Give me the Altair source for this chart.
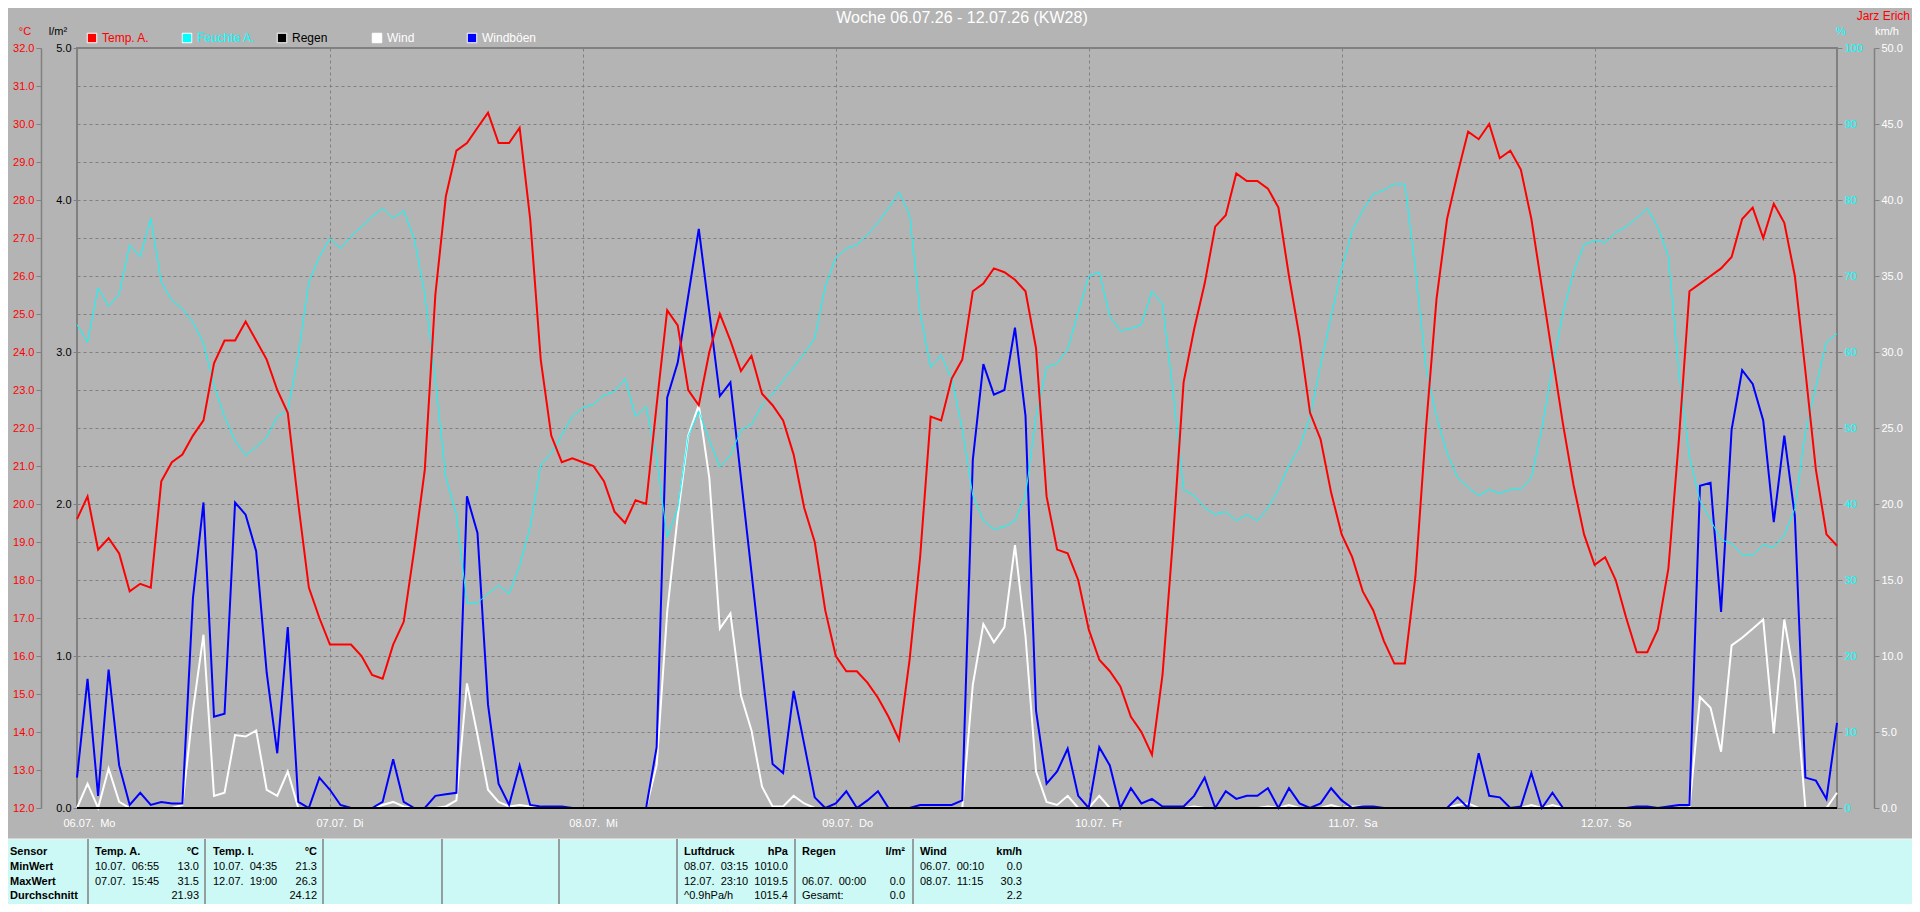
import altair as alt
import pandas as pd

FONT = "Liberation Sans"
GRID = "#808080"
BG = "#b4b4b4"
TABLE_BG = "#ccf9f5"

# ---------------- hourly series, 06.07. 00:00 ... 12.07. 23:00 ----------------
T_MO = [19.6, 20.2, 18.8, 19.1, 18.7, 17.7, 17.9, 17.8, 20.6, 21.1, 21.3, 21.8,
        22.2, 23.7, 24.3, 24.3, 24.8, 24.3, 23.8, 23.0, 22.4, 20.0, 17.8, 17.0]
T_DI = [16.3, 16.3, 16.3, 16.0, 15.5, 15.4, 16.3, 16.9, 18.8, 20.9, 25.5, 28.1,
        29.3, 29.5, 29.9, 30.3, 29.5, 29.5, 29.9, 27.5, 23.8, 21.8, 21.1, 21.2]
T_MI = [21.1, 21.0, 20.6, 19.8, 19.5, 20.1, 20.0, 22.6, 25.1, 24.7, 23.0, 22.6,
        24.0, 25.0, 24.3, 23.5, 23.9, 22.9, 22.6, 22.2, 21.3, 19.9, 19.0, 17.2]
T_DO = [16.0, 15.6, 15.6, 15.3, 14.9, 14.4, 13.8, 15.9, 18.6, 22.3, 22.2, 23.3,
        23.8, 25.6, 25.8, 26.2, 26.1, 25.9, 25.6, 24.1, 20.2, 18.8, 18.7, 18.0]
T_FR = [16.7, 15.9, 15.6, 15.2, 14.4, 14.0, 13.4, 15.5, 19.1, 23.2, 24.6, 25.8,
        27.3, 27.6, 28.7, 28.5, 28.5, 28.3, 27.8, 26.0, 24.4, 22.4, 21.7, 20.3]
T_SA = [19.2, 18.6, 17.7, 17.2, 16.4, 15.8, 15.8, 18.1, 22.0, 25.4, 27.5, 28.7,
        29.8, 29.6, 30.0, 29.1, 29.3, 28.8, 27.5, 25.7, 23.9, 22.1, 20.5, 19.2]
T_SO = [18.4, 18.6, 18.0, 17.0, 16.1, 16.1, 16.7, 18.3, 21.7, 25.6, 25.8, 26.0,
        26.2, 26.5, 27.5, 27.8, 27.0, 27.9, 27.4, 26.0, 23.5, 20.9, 19.2, 18.9]

H_MO = [63.6, 61.3, 68.4, 66.0, 67.6, 74.1, 72.5, 77.6, 69.2, 66.8, 65.7, 63.9,
        61.2, 55.6, 51.5, 48.3, 46.4, 47.5, 48.8, 51.5, 52.3, 59.6, 69.2, 72.5]
H_DI = [74.9, 73.6, 75.2, 76.5, 77.8, 78.9, 77.6, 78.6, 74.9, 67.6, 56.4, 43.5,
        38.6, 27.0, 27.0, 28.2, 29.3, 28.2, 31.9, 37.0, 45.1, 46.7, 49.1, 51.5]
H_MI = [52.7, 53.1, 54.3, 54.8, 56.5, 51.5, 52.8, 46.0, 35.6, 39.4, 48.9, 52.2,
        48.4, 44.9, 46.4, 49.7, 50.5, 53.0, 54.5, 56.3, 58.0, 59.8, 61.8, 68.6]
H_DO = [72.4, 73.6, 74.1, 75.4, 77.0, 78.9, 81.0, 78.1, 65.2, 58.0, 59.6, 56.4,
        49.9, 41.1, 37.8, 36.7, 37.0, 37.8, 41.1, 51.5, 58.0, 58.5, 60.4, 65.2]
H_FR = [70.0, 70.5, 64.7, 62.8, 63.1, 63.6, 68.0, 66.3, 54.8, 41.9, 41.1, 39.5,
        38.6, 39.0, 37.8, 38.6, 37.8, 39.5, 41.9, 45.1, 47.5, 51.5, 58.3, 64.7]
H_SA = [70.9, 76.0, 78.6, 80.8, 81.3, 82.1, 82.1, 70.9, 58.0, 51.5, 46.7, 43.5,
        42.2, 41.1, 41.9, 41.4, 41.9, 41.9, 43.5, 49.9, 58.0, 65.2, 70.5, 74.1]
H_SO = [74.7, 74.4, 75.7, 76.5, 77.6, 78.9, 76.4, 72.6, 57.2, 46.2, 40.4, 37.9,
        35.3, 34.8, 33.3, 33.3, 34.6, 34.3, 35.9, 39.4, 49.4, 55.5, 61.3, 62.4]

W_MO = [0.0, 1.6, 0.0, 2.6, 0.4, 0.0, 0.0, 0.0, 0.0, 0.0, 0.2, 6.4,
        11.4, 0.8, 1.0, 4.8, 4.7, 5.1, 1.2, 0.8, 2.4, 0.0, 0.0, 0.0]
W_DI = [0.0, 0.0, 0.0, 0.0, 0.0, 0.2, 0.4, 0.1, 0.0, 0.0, 0.0, 0.1,
        0.5, 8.2, 4.8, 1.2, 0.4, 0.1, 0.2, 0.1, 0.1, 0.0, 0.0, 0.0]
W_MI = [0.0, 0.0, 0.0, 0.0, 0.0, 0.0, 0.0, 2.8, 12.9, 19.2, 24.5, 26.5,
        21.7, 11.8, 12.8, 7.4, 5.1, 1.4, 0.1, 0.1, 0.8, 0.3, 0.0, 0.0]
W_DO = [0.0, 0.0, 0.0, 0.0, 0.0, 0.0, 0.0, 0.0, 0.0, 0.0, 0.0, 0.0,
        0.0, 8.1, 12.1, 10.9, 11.9, 17.3, 11.3, 2.4, 0.4, 0.2, 0.8, 0.0]
W_FR = [0.0, 0.8, 0.0, 0.0, 0.0, 0.0, 0.0, 0.0, 0.0, 0.0, 0.1, 0.0,
        0.0, 0.0, 0.0, 0.0, 0.0, 0.1, 0.0, 0.2, 0.0, 0.0, 0.0, 0.2]
W_SA = [0.0, 0.1, 0.1, 0.0, 0.0, 0.0, 0.0, 0.0, 0.0, 0.0, 0.0, 0.2,
        0.3, 0.0, 0.0, 0.0, 0.0, 0.0, 0.2, 0.0, 0.2, 0.0, 0.0, 0.0]
W_SO = [0.0, 0.0, 0.0, 0.0, 0.0, 0.0, 0.0, 0.0, 0.0, 0.0, 7.3, 6.6,
        3.7, 10.7, 11.2, 11.8, 12.4, 4.9, 12.4, 8.4, 0.0, 0.0, 0.0, 1.0]

G_MO = [2.0, 8.5, 0.8, 9.1, 2.8, 0.2, 1.0, 0.2, 0.4, 0.3, 0.3, 13.8,
        20.1, 6.0, 6.2, 20.1, 19.3, 16.9, 8.9, 3.6, 11.9, 0.4, 0.0, 2.0]
G_DI = [1.2, 0.2, 0.0, 0.0, 0.0, 0.4, 3.2, 0.4, 0.0, 0.0, 0.8, 0.9,
        1.0, 20.5, 18.1, 6.8, 1.6, 0.2, 2.8, 0.2, 0.1, 0.1, 0.1, 0.0]
G_MI = [0.0, 0.0, 0.0, 0.0, 0.0, 0.0, 0.0, 4.0, 27.0, 29.3, 33.7, 38.1,
        32.6, 27.1, 28.0, 21.7, 15.5, 9.2, 2.9, 2.3, 7.7, 4.2, 0.7, 0.0]
G_DO = [0.3, 1.1, 0.0, 0.5, 1.1, 0.0, 0.0, 0.0, 0.2, 0.2, 0.2, 0.2,
        0.5, 22.9, 29.2, 27.2, 27.5, 31.6, 25.8, 6.4, 1.6, 2.4, 3.9, 0.8]
G_FR = [0.0, 4.0, 2.8, 0.0, 1.3, 0.3, 0.6, 0.1, 0.1, 0.1, 0.8, 2.0,
        0.0, 1.1, 0.6, 0.8, 0.8, 1.3, 0.0, 1.3, 0.3, 0.0, 0.3, 1.3]
G_SA = [0.5, 0.0, 0.1, 0.1, 0.0, 0.0, 0.0, 0.0, 0.0, 0.0, 0.0, 0.7,
        0.0, 3.6, 0.8, 0.7, 0.0, 0.1, 2.3, 0.0, 1.0, 0.0, 0.0, 0.0]
G_SO = [0.0, 0.0, 0.0, 0.0, 0.1, 0.1, 0.0, 0.1, 0.2, 0.2, 21.2, 21.4,
        12.9, 24.9, 28.8, 27.9, 25.5, 18.8, 24.5, 19.2, 2.0, 1.8, 0.6, 5.6]

# rain: 0.0 l/m² the whole week (Gesamt 0.0)
R_WEEK = [0.0] * 168

temp = T_MO + T_DI + T_MI + T_DO + T_FR + T_SA + T_SO
hum = H_MO + H_DI + H_MI + H_DO + H_FR + H_SA + H_SO
wind = W_MO + W_DI + W_MI + W_DO + W_FR + W_SA + W_SO
gust = G_MO + G_DI + G_MI + G_DO + G_FR + G_SA + G_SO
hours = list(range(len(temp)))

DAY_LABELS = ["06.07.\u00a0 Mo", "07.07.\u00a0 Di", "08.07.\u00a0 Mi", "09.07.\u00a0 Do",
              "10.07.\u00a0 Fr", "11.07.\u00a0 Sa", "12.07.\u00a0 So"]
DAY_TICKS = [0, 24, 48, 72, 96, 120, 144]

TITLE = "Woche 06.07.26 - 12.07.26 (KW28)"
AUTHOR = "Jarz Erich"

LEG_NAMES = ["Temp. A.", "Feuchte A.", "Regen", "Wind", "Windböen"]
LEG_FILL = ["#ff0000", "#00ffff", "#000000", "#ffffff", "#0000ff"]
LEG_TEXT = ["#ff0000", "#00ffff", "#000000", "#ffffff", "#ffffff"]

# ---------------- summary table ----------------
ROW_Y = [804, 819, 834, 848]
SEP_X = [11, 128, 246, 365, 482, 600, 718, 836]
TB_BOLD_LEFT = [(-67, 0, "Sensor"), (-67, 1, "MinWert"), (-67, 2, "MaxWert"), (-67, 3, "Durchschnitt"),
                (18, 0, "Temp. A."), (136, 0, "Temp. I."), (607, 0, "Luftdruck"),
                (725, 0, "Regen"), (843, 0, "Wind")]
TB_BOLD_RIGHT = [(122, 0, "°C"), (240, 0, "°C"), (711, 0, "hPa"), (828, 0, "l/m²"), (945, 0, "km/h")]
TB_LEFT = [(18, 1, "10.07.\u00a0 06:55"), (18, 2, "07.07.\u00a0 15:45"),
           (136, 1, "10.07.\u00a0 04:35"), (136, 2, "12.07.\u00a0 19:00"),
           (607, 1, "08.07.\u00a0 03:15"), (607, 2, "12.07.\u00a0 23:10"), (607, 3, "^0.9hPa/h"),
           (725, 2, "06.07.\u00a0 00:00"), (725, 3, "Gesamt:"),
           (843, 1, "06.07.\u00a0 00:10"), (843, 2, "08.07.\u00a0 11:15")]
TB_RIGHT = [(122, 1, "13.0"), (122, 2, "31.5"), (122, 3, "21.93"),
            (240, 1, "21.3"), (240, 2, "26.3"), (240, 3, "24.12"),
            (711, 1, "1010.0"), (711, 2, "1019.5"), (711, 3, "1015.4"),
            (828, 2, "0.0"), (828, 3, "0.0"),
            (945, 1, "0.0"), (945, 2, "30.3"), (945, 3, "2.2")]

# ---------------- build chart ----------------
df = pd.DataFrame({"h": hours, "temp": temp, "hum": hum, "wind": wind,
                   "gust": gust, "rain": R_WEEK})
base = alt.Chart(df)

label_expr = "[" + ",".join("'" + s + "'" for s in DAY_LABELS) + "][round(datum.value/24)]"
x_enc = alt.X("h:Q", scale=alt.Scale(domain=[0, 167], nice=False, zero=False),
              axis=alt.Axis(values=DAY_TICKS, labelExpr=label_expr, grid=True,
                            gridDash=[3, 3], gridColor=GRID, gridWidth=1,
                            ticks=False, tickSize=0, domain=False,
                            labelColor="#ffffff", labelFont=FONT, labelFontSize=11,
                            labelAlign="left", labelOffset=-14, labelPadding=9,
                            labelFlush=False, labelOverlap=False, title=None))

temp_layer = base.mark_line(color="#ff0000", strokeWidth=2).encode(
    x=x_enc,
    y=alt.Y("temp:Q", scale=alt.Scale(domain=[12, 32], nice=False, zero=False),
            axis=alt.Axis(orient="left", offset=36, values=list(range(12, 33)),
                          format=".1f", labelColor="#ff0000", grid=True,
                          gridDash=[3, 3], gridColor=GRID, gridWidth=1,
                          domainColor=GRID, domainWidth=1.5, tickColor=GRID,
                          tickSize=5, labelPadding=2, labelOverlap=False, title=None)))

rain_layer = base.mark_line(color="#000000", strokeWidth=2).encode(
    x=x_enc,
    y=alt.Y("rain:Q", scale=alt.Scale(domain=[0, 5], nice=False, zero=False),
            axis=alt.Axis(orient="left", offset=0, values=[0, 1, 2, 3, 4, 5],
                          format=".1f", labelColor="#000000", grid=False,
                          domain=False, tickColor=GRID, tickSize=4,
                          labelPadding=2, title=None)))

hum_layer = base.mark_line(color="#00ffff", strokeWidth=1).encode(
    x=x_enc,
    y=alt.Y("hum:Q", scale=alt.Scale(domain=[0, 100], nice=False, zero=False),
            axis=alt.Axis(orient="right", offset=0, values=list(range(0, 101, 10)),
                          format="d", labelColor="#00ffff", grid=False,
                          domain=False, tickColor=GRID, tickSize=5,
                          labelPadding=2, title=None)))

wind_layer = base.mark_line(color="#ffffff", strokeWidth=2).encode(
    x=x_enc,
    y=alt.Y("wind:Q", scale=alt.Scale(domain=[0, 50], nice=False, zero=False),
            axis=alt.Axis(orient="right", offset=37, values=list(range(0, 51, 5)),
                          format=".1f", labelColor="#ffffff", grid=False,
                          domainColor=GRID, domainWidth=1.5, tickColor=GRID,
                          tickSize=5, labelPadding=2, title=None)))

gust_layer = base.mark_line(color="#0000ff", strokeWidth=2).encode(
    x=x_enc,
    y=alt.Y("gust:Q", scale=alt.Scale(domain=[0, 50], nice=False, zero=False), axis=None))

one = alt.Data(values=[{"a": 1}])

table_bg = alt.Chart(one).mark_rect(color=TABLE_BG).encode(
    x=alt.value(-69), x2=alt.value(1835), y=alt.value(791), y2=alt.value(860))
table_top = alt.Chart(one).mark_rule(color="#f4f4f4", strokeWidth=1).encode(
    x=alt.value(-69), x2=alt.value(1835), y=alt.value(791))

sep_df = pd.DataFrame({"sx": SEP_X})
seps = alt.Chart(sep_df).mark_rule(color=GRID, strokeWidth=1.5).encode(
    x=alt.X("sx:Q", scale=None, axis=None), y=alt.value(791), y2=alt.value(860))


def text_layer(items, align, bold):
    tdf = pd.DataFrame({"tx": [i[0] for i in items],
                        "ty": [ROW_Y[i[1]] for i in items],
                        "t": [i[2] for i in items]})
    return alt.Chart(tdf).mark_text(align=align, baseline="middle", font=FONT,
                                    fontSize=11, color="#000000",
                                    fontWeight="bold" if bold else "normal").encode(
        x=alt.X("tx:Q", scale=None, axis=None),
        y=alt.Y("ty:Q", scale=None, axis=None),
        text="t:N")


tb1 = text_layer(TB_BOLD_LEFT, "left", True)
tb2 = text_layer(TB_BOLD_RIGHT, "right", True)
tb3 = text_layer(TB_LEFT, "left", False)
tb4 = text_layer(TB_RIGHT, "right", False)

leg_df = pd.DataFrame({"name": LEG_NAMES, "fill": LEG_FILL, "tcol": LEG_TEXT,
                       "lx": [15 + 95 * i for i in range(len(LEG_NAMES))],
                       "ly": [-10] * len(LEG_NAMES)})
leg_df["tx"] = leg_df["lx"] + 10
leg_sq = alt.Chart(leg_df).mark_square(size=90, filled=True, stroke="#ffffff",
                                       strokeWidth=1, opacity=1).encode(
    x=alt.X("lx:Q", scale=None, axis=None),
    y=alt.Y("ly:Q", scale=None, axis=None),
    color=alt.Color("fill:N", scale=None))
leg_txt = alt.Chart(leg_df).mark_text(align="left", baseline="middle", font=FONT,
                                      fontSize=12).encode(
    x=alt.X("tx:Q", scale=None, axis=None),
    y=alt.Y("ly:Q", scale=None, axis=None),
    color=alt.Color("tcol:N", scale=None),
    text="name:N")

AX_TITLES = pd.DataFrame({"t": ["°C", "l/m²", "%", "km/h"],
                          "tx": [-52, -19, 1764, 1810],
                          "ty": [-16, -16, -16, -16],
                          "c": ["#ff0000", "#000000", "#00ffff", "#ffffff"]})
ax_titles = alt.Chart(AX_TITLES).mark_text(align="center", baseline="middle",
                                           font=FONT, fontSize=11).encode(
    x=alt.X("tx:Q", scale=None, axis=None),
    y=alt.Y("ty:Q", scale=None, axis=None),
    color=alt.Color("c:N", scale=None),
    text="t:N")

title_txt = alt.Chart(one).mark_text(text=TITLE, align="center", baseline="middle",
                                     font=FONT, fontSize=16, color="#ffffff").encode(
    x=alt.value(885), y=alt.value(-30))
author_txt = alt.Chart(one).mark_text(text=AUTHOR, align="right", baseline="middle",
                                      font=FONT, fontSize=12, color="#ff0000").encode(
    x=alt.value(1833), y=alt.value(-32))

chart = alt.layer(
    table_bg, table_top, seps,
    wind_layer, gust_layer, hum_layer, temp_layer, rain_layer,
    leg_sq, leg_txt, ax_titles, title_txt, author_txt,
    tb1, tb2, tb3, tb4,
).resolve_scale(y="independent").properties(
    width=1760, height=760,
    padding={"left": 69, "top": 40, "right": 75, "bottom": 96},
    autosize=alt.AutoSizeParams(type="none"),
).configure(background=BG).configure_view(
    stroke=GRID, strokeWidth=2, fill=BG
).configure_axis(labelFont=FONT, labelFontSize=11)

chart.save("out.html", embed_options={"renderer": "svg", "actions": False})
